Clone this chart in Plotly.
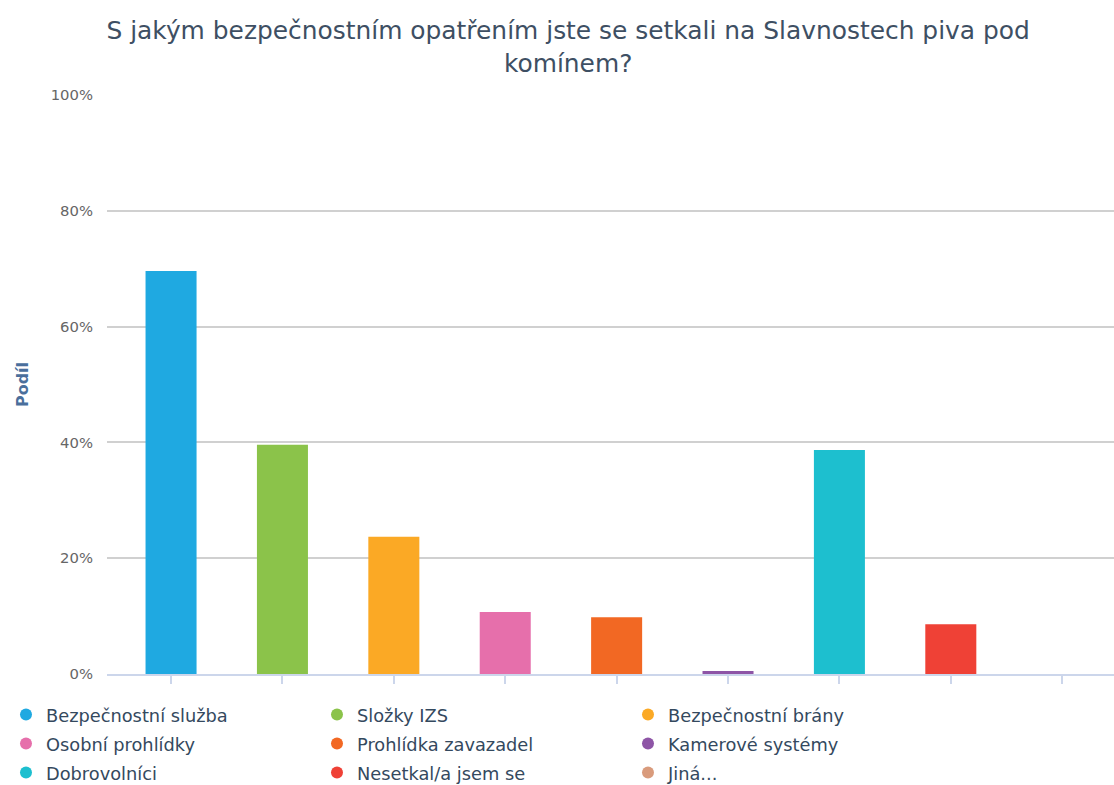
import plotly.graph_objects as go

categories = ["Bezpečnostní služba", "Složky IZS", "Bezpečnostní brány",
              "Osobní prohlídky", "Prohlídka zavazadel", "Kamerové systémy",
              "Dobrovolníci", "Nesetkal/a jsem se", "Jiná..."]
values = [69.6, 39.6, 23.7, 10.7, 9.8, 0.5, 38.7, 8.6, 0.0]
colors = ["#1fa9e1", "#8bc34a", "#fba925", "#e66fab", "#f26823",
          "#8e55a6", "#1dbfcf", "#ef4136", "#d99b7c"]
y_ticks = [0, 20, 40, 60, 80, 100]
y_tick_labels = ["0%", "20%", "40%", "60%", "80%", "100%"]

title_text = "S jakým bezpečnostním opatřením jste se setkali na Slavnostech piva pod<br>komínem?"
y_title = "Podíl"

fig = go.Figure()
fig.add_trace(go.Bar(
    x=list(range(len(categories))), y=values,
    marker=dict(color=colors, line=dict(width=0)),
    width=0.458, showlegend=False, hoverinfo="skip",
))
legend_ids = ["legend", "legend2", "legend3"]
for i, (name, col) in enumerate(zip(categories, colors)):
    fig.add_trace(go.Scatter(
        x=[None], y=[None], mode="markers", name=name,
        legend=legend_ids[i // 3],
        marker=dict(color=col, size=12, symbol="circle"),
    ))

legend_common = dict(orientation="h", x=-0.1003, xanchor="left", yanchor="middle",
                     entrywidth=266, entrywidthmode="pixels",
                     font=dict(size=17.8, color="#34495e", family="DejaVu Sans"),
                     itemsizing="constant", bgcolor="rgba(0,0,0,0)")

fig.update_layout(
    width=1114, height=785,
    margin=dict(l=107, r=0, t=95, b=111, autoexpand=False),
    paper_bgcolor="white", plot_bgcolor="white",
    font=dict(family="DejaVu Sans", color="#666666"),
    title=dict(text=title_text, x=0.51, xanchor="center", y=0.95, yanchor="top",
               font=dict(size=24.9, color="#3e4f63", family="DejaVu Sans")),
    xaxis=dict(range=[-0.575, 8.465], showticklabels=False,
               tickvals=list(range(len(categories))),
               ticks="outside", ticklen=8, tickcolor="#ccd6eb", tickwidth=1.5,
               showline=True, linecolor="#ccd6eb", linewidth=1.5, showgrid=False,
               zeroline=False, fixedrange=True),
    yaxis=dict(range=[0, 100], tickvals=y_ticks, ticktext=y_tick_labels,
               showgrid=True, gridcolor="#d0d0d0", gridwidth=1.5, zeroline=False,
               ticks="", ticklabelstandoff=13,
               tickfont=dict(size=14.8, color="#666666"),
               title=dict(text="<b>" + y_title + "</b>", standoff=18,
                          font=dict(size=16, color="#4a6f9c"))),
    legend=dict(legend_common, y=-0.0708),
    legend2=dict(legend_common, y=-0.1209),
    legend3=dict(legend_common, y=-0.171),
)

fig.write_html("out.html", config={"displayModeBar": False},
               post_script="document.body.style.margin='0';document.body.style.overflow='hidden';")
